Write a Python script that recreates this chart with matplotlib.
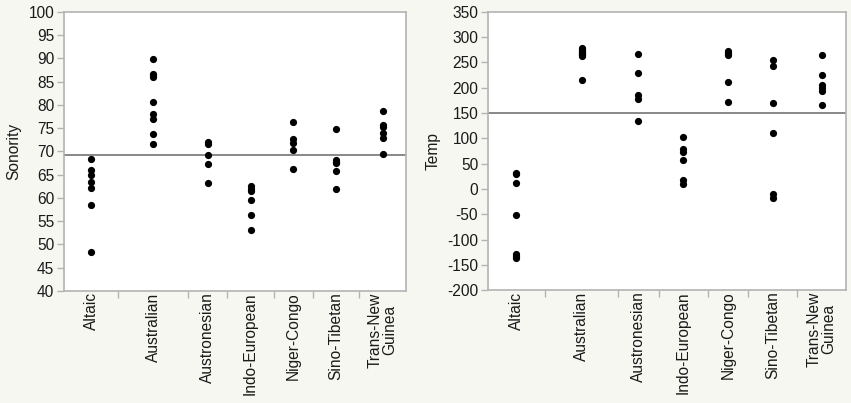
import matplotlib
matplotlib.use("Agg")
import matplotlib.pyplot as plt
import numpy as np

plt.rcParams['font.family'] = ['Liberation Sans', 'DejaVu Sans']

categories = ["Altaic", "Australian", "Austronesian", "Indo-European",
              "Niger-Congo", "Sino-Tibetan", "Trans-New\nGuinea"]

sonority = [
    [68.4, 66.0, 65.0, 63.5, 62.2, 58.5, 48.4],
    [89.8, 86.6, 86.3, 86.0, 80.5, 78.0, 76.9, 73.8, 71.6],
    [72.0, 71.5, 69.2, 67.3, 63.2],
    [62.5, 62.0, 61.4, 59.5, 56.4, 53.0],
    [76.4, 72.6, 71.8, 70.3, 66.2],
    [74.9, 68.1, 67.8, 67.5, 65.7, 61.8],
    [78.7, 75.7, 75.3, 74.0, 72.8, 69.4],
]

temp = [
    [31, 29, 11, -51, -129, -133, -137],
    [278, 275, 272, 270, 268, 266, 264, 262, 216],
    [267, 228, 186, 177, 135],
    [102, 78, 73, 57, 17, 10],
    [273, 269, 265, 212, 172],
    [254, 243, 170, 110, -11, -17],
    [265, 224, 205, 199, 194, 165],
]

sonority_mean = 69.3
temp_mean = 149

sonority_ticks = list(range(40, 101, 5))
temp_ticks = list(range(-200, 351, 50))

BG = "#f7f7f2"
FRAME = "#b3b3b3"
TXT = "#1a1a1a"
FS = 11.2

fig = plt.figure(figsize=(8.51, 4.03), dpi=100, facecolor=BG)

def panel(rect, groups, mean, ticks, ylabel):
    ax = fig.add_axes(rect)
    ax.set_facecolor("white")
    counts = [len(g) for g in groups]
    bounds = np.concatenate([[0], np.cumsum(counts)])
    centers = (bounds[:-1] + bounds[1:]) / 2
    for c, g in zip(centers, groups):
        ax.scatter([c] * len(g), g, s=27, color="black", zorder=3, linewidths=0)
    ax.axhline(mean, color="#888888", lw=1.4, zorder=2)
    ax.set_xlim(bounds[0], bounds[-1])
    ax.set_ylim(ticks[0], ticks[-1])
    ax.set_yticks(ticks)
    ax.set_yticklabels([str(t) for t in ticks], fontsize=FS, color=TXT)
    ax.set_xticks(bounds[1:-1])
    ax.set_xticklabels([])
    ax.set_xticks(centers, minor=True)
    ax.set_xticklabels(categories, minor=True, rotation=90, fontsize=FS,
                       color=TXT, va="top", ha="center", linespacing=0.95)
    ax.tick_params(axis="x", which="minor", length=0, pad=1)
    ax.tick_params(axis="x", which="major", length=5, color=FRAME, width=1)
    ax.tick_params(axis="y", length=5, color=FRAME, width=1, pad=2)
    for s in ax.spines.values():
        s.set_color(FRAME)
        s.set_linewidth(1.2)
    ax.set_ylabel(ylabel, fontsize=FS, color=TXT, labelpad=5)
    return ax

panel([0.0752, 0.278, 0.4019, 0.693], sonority, sonority_mean, sonority_ticks, "Sonority")
panel([0.5734, 0.280, 0.4207, 0.691], temp, temp_mean, temp_ticks, "Temp")

fig.savefig("out.png", dpi=100, facecolor=BG)
